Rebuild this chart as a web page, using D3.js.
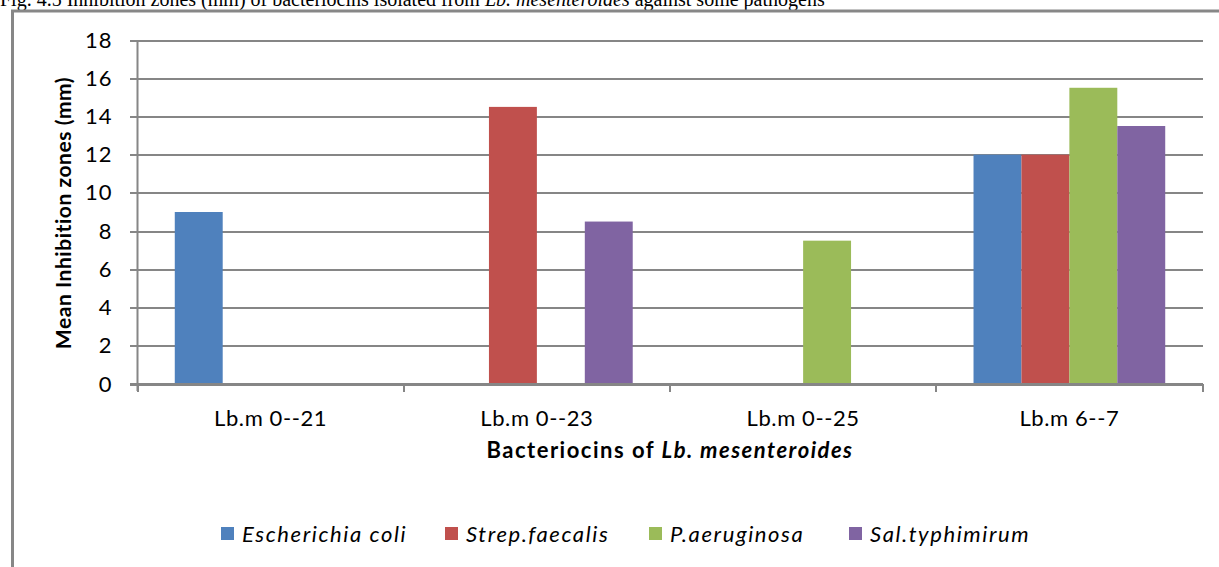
<!DOCTYPE html>
<meta charset="utf-8">
<style>
body {
  margin: 0;
  background-color: #ffffff;
}
svg text {
  font-family: Lato, "Open Sans", sans-serif;
  fill: #000;
}
.caption text {
  font-family: "Liberation Serif", "Times New Roman", serif;
}
.axis path {
  display: none;
}
.grid line,
.ticks line {
  stroke: #868686;
  stroke-width: 2px;
  shape-rendering: crispEdges;
}
</style>
<body>
<script src="https://d3js.org/d3.v7.min.js"></script>
<script>
  // data
  var categories = ["Lb.m 0--21", "Lb.m 0--23", "Lb.m 0--25", "Lb.m 6--7"];
  var seriesNames = ["Escherichia coli", "Strep.faecalis", "P.aeruginosa", "Sal.typhimirum"];
  var ecoliValues = [9, 0, 0, 12];
  var strepValues = [0, 14.5, 0, 12];
  var paerValues = [0, 0, 7.5, 15.5];
  var salValues = [0, 8.5, 0, 13.5];
  var yTicks = [0, 2, 4, 6, 8, 10, 12, 14, 16, 18];
  var colors = ["#4F81BD", "#C0504D", "#9BBB59", "#8064A2"];

  var seriesValues = [ecoliValues, strepValues, paerValues, salValues];

  var chartConfig = {
    width: 1219,
    height: 567,
    plot: {left: 137.5, right: 1202.5, top: 40, bottom: 384}
  };
  var p = chartConfig.plot;

  var svg = d3.select("body").append("svg")
      .attr("width", chartConfig.width)
      .attr("height", chartConfig.height);

  // caption cut at the top of the picture
  var cap = svg.append("g").attr("class", "caption")
    .append("text")
      .attr("x", 0)
      .attr("y", 6)
      .style("font-size", "20px");
  cap.append("tspan").text("Fig. 4.5 Inhibition zones (mm) of bacteriocins isolated from ");
  cap.append("tspan").style("font-style", "italic").text("Lb. mesenteroides");
  cap.append("tspan").text(" against some pathogens");

  // outer chart border
  svg.append("rect")
      .attr("x", 12.5)
      .attr("y", 11)
      .attr("width", 1230)
      .attr("height", 600)
      .attr("fill", "none")
      .attr("stroke", "#878787")
      .attr("stroke-width", 3);

  // scales
  var x0 = d3.scaleBand()
      .domain(categories)
      .range([p.left, p.right])
      .padding(0);
  var bw = x0.bandwidth();
  var x1 = d3.scaleBand()
      .domain(seriesNames)
      .range([bw * 0.14, bw * 0.86])
      .padding(0);
  var y = d3.scaleLinear()
      .domain([0, 18])
      .range([p.bottom, p.top]);

  // gridlines (start at tick mark left of axis)
  svg.append("g")
      .attr("class", "grid")
      .attr("transform", "translate(130,0)")
      .call(d3.axisRight(y).tickValues(yTicks).tickSize(p.right - 130).tickFormat(""))
      .select(".domain").remove();

  // y axis line
  svg.append("line")
      .attr("x1", p.left).attr("x2", p.left)
      .attr("y1", p.top).attr("y2", p.bottom + 7)
      .attr("stroke", "#868686")
      .attr("stroke-width", 2);

  // y tick labels
  svg.append("g")
      .attr("class", "axis")
      .attr("transform", "translate(" + p.left + ",0)")
      .call(d3.axisLeft(y).tickValues(yTicks).tickSize(0).tickPadding(25))
      .selectAll("text")
      .style("font-size", "22px")
      .style("letter-spacing", "1px");

  // bars
  var groups = svg.append("g").selectAll("g")
      .data(categories)
    .enter().append("g")
      .attr("transform", function(d) { return "translate(" + x0(d) + ",0)"; });

  groups.selectAll("rect")
      .data(function(d, i) {
        return seriesNames.map(function(s, j) { return {name: s, value: seriesValues[j][i], color: colors[j]}; });
      })
    .enter().append("rect")
      .attr("x", function(d) { return x1(d.name); })
      .attr("width", x1.bandwidth())
      .attr("y", function(d) { return y(d.value); })
      .attr("height", function(d) { return p.bottom - y(d.value); })
      .attr("fill", function(d) { return d.color; });

  // x axis baseline and category boundary ticks
  var xt = svg.append("g").attr("class", "ticks");
  xt.append("line")
      .attr("x1", 130).attr("x2", p.right)
      .attr("y1", p.bottom).attr("y2", p.bottom);
  xt.selectAll(".bt")
      .data(categories.map(function(c) { return x0(c); }).concat([p.right]))
    .enter().append("line")
      .attr("class", "bt")
      .attr("x1", function(d) { return d; }).attr("x2", function(d) { return d; })
      .attr("y1", p.bottom).attr("y2", p.bottom + 8);

  // category labels
  svg.append("g")
      .attr("class", "axis")
      .attr("transform", "translate(0," + p.bottom + ")")
      .call(d3.axisBottom(x0).tickSize(0).tickPadding(26))
      .selectAll("text")
      .style("font-size", "22px")
      .style("letter-spacing", "0.6px");

  // x axis title
  var xTitle = svg.append("text")
      .attr("x", (p.left + p.right) / 2)
      .attr("y", 458)
      .attr("text-anchor", "middle")
      .style("font-size", "22px")
      .style("letter-spacing", "1.5px")
      .style("font-weight", "bold");
  xTitle.append("tspan").text("Bacteriocins of ");
  xTitle.append("tspan").style("font-style", "italic").text("Lb. mesenteroides");

  // y axis title
  svg.append("text")
      .attr("transform", "translate(71,213) rotate(-90)")
      .attr("text-anchor", "middle")
      .style("font-size", "21px")
      .style("letter-spacing", "0.55px")
      .style("font-weight", "bold")
      .text("Mean Inhibition zones (mm)");

  // legend
  var legendX = [221, 445, 649, 849];
  var legend = svg.append("g").selectAll("g")
      .data(seriesNames)
    .enter().append("g")
      .attr("transform", function(d, i) { return "translate(" + legendX[i] + ",527)"; });
  legend.append("rect")
      .attr("width", 13)
      .attr("height", 13)
      .attr("fill", function(d, i) { return colors[i]; });
  legend.append("text")
      .attr("x", 21)
      .attr("y", 7)
      .attr("dy", "0.35em")
      .style("font-size", "22px")
      .style("letter-spacing", "1.6px")
      .style("font-style", "italic")
      .text(function(d) { return d; });
</script>
</body>
